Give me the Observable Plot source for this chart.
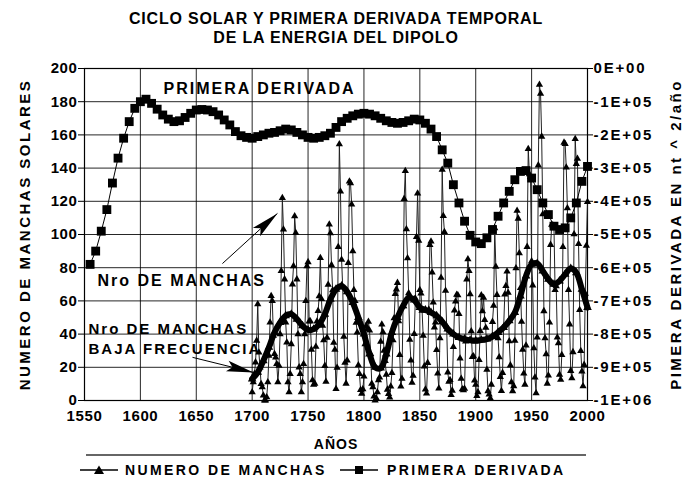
<!DOCTYPE html>
<html><head><meta charset="utf-8">
<script src="https://cdn.jsdelivr.net/npm/d3@7"></script>
<script src="https://cdn.jsdelivr.net/npm/@observablehq/plot@0.6"></script>
<style>
body{margin:0;background:#fff;}
#wrap{position:relative;width:686px;height:489px;overflow:hidden;background:#fff;font-family:"Liberation Sans",Arial,sans-serif;color:#000;}
#title{position:absolute;top:9px;left:0;width:672px;text-align:center;font-weight:bold;font-size:16px;line-height:19px;letter-spacing:0.8px;}
#chart{position:absolute;top:56px;left:0;}
#legline{position:absolute;top:454px;left:86px;width:500px;height:0;border-top:2px solid #666;}
.leg{position:absolute;top:462px;font-weight:bold;font-size:14px;letter-spacing:2.4px;line-height:16px;white-space:nowrap;}
.legsym{position:absolute;top:464px;}
</style>
</head><body>
<div id="wrap">
  <div id="title">CICLO SOLAR Y PRIMERA DERIVADA TEMPORAL<br>DE LA ENERGIA DEL DIPOLO</div>
  <div id="chart"></div>
  <div id="legline"></div>
  <svg class="legsym" style="left:80px" width="38" height="12"><line x1="0" y1="6" x2="38" y2="6" stroke="#000" stroke-width="1.5"/><path d="M19,1.5 L24,10 L14,10Z" fill="#000"/></svg>
  <div class="leg" style="left:125px">NUMERO DE MANCHAS</div>
  <svg class="legsym" style="left:340px" width="38" height="12"><line x1="0" y1="6" x2="38" y2="6" stroke="#000" stroke-width="1.5"/><rect x="15" y="2" width="8" height="8" fill="#000"/></svg>
  <div class="leg" style="left:387px">PRIMERA DERIVADA</div>
</div>
<script>
// ---- data ----
const sunspotYears = d3.range(1700, 2001);
const sunspotValues = [
5,11,16,23,36,58,29,20,10,8,3,0,0,2,11,27,47,63,60,39,
28,26,22,11,21,40,78,122,103,73,47,35,11,5,16,34,70,81,111,101,
73,40,20,16,5,11,22,40,60,80.9,83.4,47.7,47.8,30.7,12.2,9.6,10.2,32.4,47.6,54,
62.9,85.9,61.2,45.1,36.4,20.9,11.4,37.8,69.8,106.1,100.8,81.6,66.5,34.8,30.6,7,19.8,92.5,154.4,125.9,
84.8,68.1,38.5,22.8,10.2,24.1,82.9,132,130.9,118.1,89.9,66.6,60,46.9,41,21.3,16,6.4,4.1,6.8,
14.5,34,45,43.1,47.5,42.2,28.1,10.1,8.1,2.5,0,1.4,5,12.2,13.9,35.4,45.8,41.1,30.1,23.9,
15.6,6.6,4,1.8,8.5,16.6,36.3,49.6,64.2,67,70.9,47.8,27.5,8.5,13.2,56.9,121.5,138.3,103.2,85.7,
64.6,36.7,24.2,10.7,15,40.1,61.5,98.5,124.7,96.3,66.6,64.5,54.1,39,20.6,6.7,4.3,22.7,54.8,93.8,
95.8,77.2,59.1,44,47,30.5,16.3,7.3,37.6,74,139,111.2,101.6,66.2,44.7,17,11.3,12.4,3.4,6,
32.3,54.3,59.7,63.7,63.5,52.2,25.4,13.1,6.8,6.3,7.1,35.6,73,85.1,78,64,41.8,26.2,26.7,12.1,
9.5,2.7,5,24.4,42,63.5,53.8,62,48.5,43.9,18.6,5.7,3.6,1.4,9.6,47.4,57.1,103.9,80.6,63.6,
37.6,26.1,14.2,5.8,16.7,44.3,63.9,69,77.8,64.9,35.7,21.2,11.1,5.7,8.7,36.1,79.7,114.4,109.6,88.8,
67.8,47.5,30.6,16.3,9.6,33.2,92.6,151.6,136.3,134.7,83.9,69.4,31.5,13.9,4.4,38,141.7,190.2,184.8,159,
112.3,53.9,37.6,27.9,10.2,15.1,47,93.8,105.9,105.5,104.5,66.6,68.9,38,34.5,15.5,12.6,27.5,92.5,155.4,
154.6,140.4,115.9,66.6,45.9,17.9,13.4,29.2,100.2,157.6,142.6,145.7,94.3,54.6,29.9,17.5,8.6,21.5,64.3,93.3,
119.6];

const lowFreqYears = d3.range(1700, 2001, 5);
const lowFreqValues = [
13,17,24,32,41,47,51,52,49,45,42.5,43,46,52,61,67,69,65.5,59,50,
40,28,20,19.5,28,41,50,57,62,60.5,56,54.5,53,51,47.5,43,40,38,37,36.3,
36,36.5,37,38.5,41,44,48,53,63,75,82,82.5,78,73,70,72,76,79.5,77,67,
56];

const derivYears = d3.range(1555, 2001, 5);
const derivValues = [ // nT^2/año
-590000,-550000,-490000,-425000,-345000,-270000,-210000,-160000,-120000,-100000,
-92500,-105000,-122500,-140000,-152500,-160000,-157500,-147500,-135000,-125000,
-123500,-125000,-130000,-140000,-155000,-170000,-190000,-202500,-207500,-210000,
-205000,-200000,-195000,-192500,-187500,-182500,-185000,-192500,-200000,-207500,
-210000,-207500,-202500,-195000,-177500,-160000,-150000,-142500,-137500,-135000,
-137500,-142500,-150000,-157500,-162500,-165000,-162500,-157500,-152500,-155000,
-165000,-182500,-205000,-245000,-285000,-350000,-405000,-460000,-502500,-522500,
-527500,-510000,-485000,-445000,-405000,-370000,-335000,-310000,-307500,-330000,
-365000,-405000,-440000,-475000,-485000,-480000,-450000,-405000,-340000,-295000];

const xTicks = d3.range(1550, 2001, 50);
const leftTicks = d3.range(0, 201, 20);
const rightTicks = [0,-100000,-200000,-300000,-400000,-500000,-600000,-700000,-800000,-900000,-1000000];

// annotations (data units)
const noteA = {labels:["PRIMERA DERIVADA","Nro DE MANCHAS"], years:[1620.7,1561.6], values:[188,72.3]};
const noteB = {labels:["Nro DE MANCHAS","BAJA FRECUENCIA"], years:[1553.6,1553.6], values:[42.8,30.7]};
const arrowTail = {years:[1673.4,1646.6], values:[82.5,26]};
const arrowTip  = {years:[1722.6,1701.2], values:[112.7,16.9]};
const arrowDir  = [[55,-49],[61,15]]; // screen direction

// ---- helpers ----
const toLeft = d => 200 + d / 5000;
const fromLeft = v => (v - 200) * 5000;
function sci(d){
  d = Math.round(d);
  if (d === 0) return "0E+00";
  const s = d < 0 ? "-" : "";
  const a = Math.abs(d);
  const e = Math.floor(Math.log10(a) + 1e-9);
  const m = Math.round(a / Math.pow(10, e));
  return s + m + "E+" + String(e).padStart(2, "0");
}
function dart([dx, dy], L, w){
  const n = Math.hypot(dx, dy), ux = dx/n, uy = dy/n, px = -uy, py = ux;
  return {draw(ctx){
    ctx.moveTo(0, 0);
    ctx.lineTo(-ux*L + px*w, -uy*L + py*w);
    ctx.lineTo(-ux*L*0.8, -uy*L*0.8);
    ctx.lineTo(-ux*L - px*w, -uy*L - py*w);
    ctx.closePath();
  }};
}

const sun = sunspotYears.map((y,i)=>({year:y, v:sunspotValues[i]}));
const low = lowFreqYears.map((y,i)=>({year:y, v:lowFreqValues[i]}));
const der = derivYears.map((y,i)=>({year:y, d:derivValues[i]}));
const nA = noteA.labels.map((t,i)=>({t, year:noteA.years[i], v:noteA.values[i]}));
const nB = noteB.labels.map((t,i)=>({t, year:noteB.years[i], v:noteB.values[i]}));
const arr = arrowTail.years.map((y,i)=>({x1:y, y1:arrowTail.values[i], x2:arrowTip.years[i], y2:arrowTip.values[i]}));

const chart = Plot.plot({
  width: 686, height: 433,
  marginLeft: 84, marginRight: 99, marginTop: 12, marginBottom: 89,
  x: {domain: [1550, 2000]},
  y: {domain: [0, 200]},
  style: {fontFamily: '"Liberation Sans", Arial, sans-serif', fontSize: "15px", fontWeight: "bold", color: "#000", background: "#fff", overflow: "visible"},
  marks: [
    Plot.gridX(xTicks, {stroke: "#000", strokeOpacity: 0.85, strokeWidth: 1}),
    Plot.gridY(leftTicks, {stroke: "#000", strokeOpacity: 0.85, strokeWidth: 1}),
    Plot.frame({stroke: "#000", strokeWidth: 1.2}),
    Plot.axisY(leftTicks, {anchor: "left", tickSize: 6, tickPadding: 1, label: "NUMERO DE MANCHAS SOLARES", labelAnchor: "center", labelArrow: "none", labelOffset: 65}),
    Plot.axisY(rightTicks.map(toLeft), {anchor: "right", tickSize: 5, tickPadding: 1, tickFormat: v => sci(fromLeft(v)), label: "PIMERA DERIVADA EN nt ^ 2/año", labelAnchor: "center", labelArrow: "none", labelOffset: 93}),
    Plot.axisX(xTicks, {anchor: "bottom", tickSize: 0, tickPadding: 10, tickFormat: d => String(d), label: "AÑOS", labelAnchor: "center", labelArrow: "none", labelOffset: 48}),
    Plot.line(sun, {x: "year", y: "v", stroke: "#222", strokeWidth: 1}),
    Plot.dot(sun, {x: "year", y: "v", symbol: "triangle", r: 2.7, fill: "#000", stroke: "none"}),
    Plot.line(low, {x: "year", y: "v", stroke: "#000", strokeWidth: 6, curve: "catmull-rom"}),
    Plot.dot(low, {x: "year", y: "v", symbol: "triangle", r: 3.2, fill: "#000", stroke: "none"}),
    Plot.line(der, {x: "year", y: d => toLeft(d.d), stroke: "#000", strokeWidth: 1}),
    Plot.dot(der, {x: "year", y: d => toLeft(d.d), symbol: "square", r: 5, fill: "#000", stroke: "none"}),
    Plot.text(nA, {x: "year", y: "v", text: "t", textAnchor: "start", lineAnchor: "middle", fontSize: 16, fontWeight: "bold", fill: "#000"}),
    Plot.text(nB, {x: "year", y: "v", text: "t", textAnchor: "start", lineAnchor: "middle", fontSize: 15, fontWeight: "bold", fill: "#000"}),
    Plot.link(arr, {x1: "x1", y1: "y1", x2: "x2", y2: "y2", stroke: "#000", strokeWidth: 1}),
    Plot.dot([arr[0]], {x: "x2", y: "y2", r: 5, symbol: dart(arrowDir[0], 28, 5.5), fill: "#000", stroke: "none"}),
    Plot.dot([arr[1]], {x: "x2", y: "y2", r: 5, symbol: dart(arrowDir[1], 27, 5.5), fill: "#000", stroke: "none"})
  ]
});
document.getElementById("chart").appendChild(chart);
const s = d3.select(chart);
s.selectAll('g[aria-label="text"] text').style("letter-spacing", "2px");
s.selectAll('g[aria-label="y-axis tick label"] text').each(function(){
  const t = this.textContent;
  d3.select(this).style("letter-spacing", t.includes("E") ? "1.8px" : "0.6px");
});
s.selectAll('g[aria-label="x-axis tick label"] text').style("letter-spacing", "0.6px");
s.selectAll('g[aria-label="y-axis label"] text').style("letter-spacing", "2.5px");
s.selectAll('g[aria-label="x-axis label"] text').style("letter-spacing", "1px").style("font-size", "14px");
</script>
</body></html>
